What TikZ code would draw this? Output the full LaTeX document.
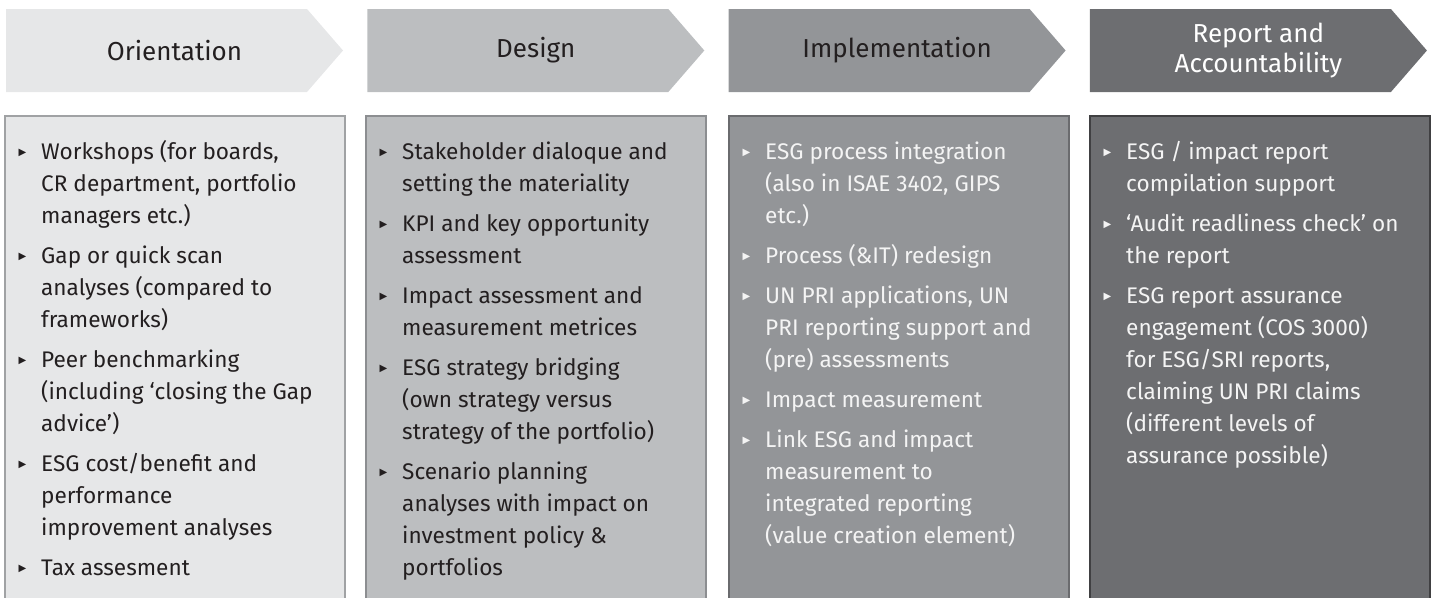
\documentclass[tikz,border=0pt]{standalone}
\usepackage{fontspec}
\setmainfont{Fira Sans}
\newfontfamily\trifont{DejaVu Sans}
\usetikzlibrary{positioning}

\definecolor{greyA}{HTML}{E6E7E8}
\definecolor{greyB}{HTML}{BCBEC0}
\definecolor{greyC}{HTML}{939598}
\definecolor{greyD}{HTML}{6D6E71}
\definecolor{lineA}{HTML}{A0A2A4}
\definecolor{lineB}{HTML}{8C8E91}
\definecolor{lineC}{HTML}{6A6B6E}
\definecolor{lineD}{HTML}{404042}
\definecolor{inkdark}{HTML}{231F20}
\definecolor{inklight}{HTML}{F4F4F4}

\newcommand{\bul}{\makebox[22.5pt][l]{\raisebox{4pt}{\trifont\fontsize{10}{10}\selectfont ▶}}}
\newcommand{\bodysize}{\fontsize{22.6}{32}\selectfont}

\begin{document}
\begin{tikzpicture}[x=1pt,y=-1pt,
    phase/.style={font=\fontsize{26}{30}\selectfont,align=center,inner sep=0pt},
    column/.style={draw=#1,line width=2pt,anchor=north west,outer sep=0pt,
        minimum width=340pt,minimum height=520pt,inner sep=0pt},
    itemlist/.style={anchor=north west,inner sep=0pt,font=\bodysize,align=left}]

\useasboundingbox (0,0) rectangle (1431,597);
\clip (0,0) rectangle (1431,597);

% chevrons
\foreach \i/\c in {0/greyA,1/greyB,2/greyC,3/greyD}
    \fill[\c,xshift=\i*361.3pt] (6,9) -- (307,9) -- (343,50.5) -- (307,92) -- (6,92) -- cycle;

\node[phase,text=inkdark] (orient) at (174.5,50.5) {Orientation};
\node[phase,text=inkdark] (design) at (535.8,50.5) {Design};
\node[phase,text=inkdark] (implement) at (897.1,50.5) {Implementation};
\node[phase,text=white] (report) at (1258.4,50.5) {Report and\\Accountability};

% columns
\node[column=lineA,fill=greyA] (orientbox) at (5,116) {};
\node[column=lineB,fill=greyB] (designbox) at (366,116) {};
\node[column=lineC,fill=greyC] (implementbox) at (729,116) {};
\node[column=lineD,fill=greyD] (reportbox) at (1090,116) {};

\node[itemlist,text=inkdark] (orientlist) at ([xshift=13.5pt,yshift=-20.6pt]orientbox.north west) {%
    \begin{tabular}{@{}l@{}l@{}}
    \bul & Workshops (for boards,\\
         & CR department, portfolio\\
         & managers etc.)\\[8pt]
    \bul & Gap or quick scan\\
         & analyses (compared to\\
         & frameworks)\\[8pt]
    \bul & Peer benchmarking\\
         & (including ‘closing the Gap\\
         & advice’)\\[8pt]
    \bul & ESG cost/benefit and\\
         & performance\\
         & improvement analyses\\[8pt]
    \bul & Tax assesment
    \end{tabular}};

\node[itemlist,text=inkdark] (designlist) at ([xshift=13.5pt,yshift=-20.6pt]designbox.north west) {%
    \begin{tabular}{@{}l@{}l@{}}
    \bul & Stakeholder dialoque and\\
         & setting the materiality\\[8pt]
    \bul & KPI and key opportunity\\
         & assessment\\[8pt]
    \bul & Impact assessment and\\
         & measurement metrices\\[8pt]
    \bul & ESG strategy bridging\\
         & (own strategy versus\\
         & strategy of the portfolio)\\[8pt]
    \bul & Scenario planning\\
         & analyses with impact on\\
         & investment policy \&\\
         & portfolios
    \end{tabular}};

\node[itemlist,text=inklight] (implementlist) at ([xshift=13.5pt,yshift=-20.6pt]implementbox.north west) {%
    \begin{tabular}{@{}l@{}l@{}}
    \bul & ESG process integration\\
         & (also in ISAE 3402, GIPS\\
         & etc.)\\[8pt]
    \bul & Process (\&IT) redesign\\[8pt]
    \bul & UN PRI applications, UN\\
         & PRI reporting support and\\
         & (pre) assessments\\[8pt]
    \bul & Impact measurement\\[8pt]
    \bul & Link ESG and impact\\
         & measurement to\\
         & integrated reporting\\
         & (value creation element)
    \end{tabular}};

\node[itemlist,text=inklight] (reportlist) at ([xshift=13.5pt,yshift=-20.6pt]reportbox.north west) {%
    \begin{tabular}{@{}l@{}l@{}}
    \bul & ESG / impact report\\
         & compilation support\\[8pt]
    \bul & ‘Audit readliness check’ on\\
         & the report\\[8pt]
    \bul & ESG report assurance\\
         & engagement (COS 3000)\\
         & for ESG/SRI reports,\\
         & claiming UN PRI claims\\
         & (different levels of\\
         & assurance possible)
    \end{tabular}};
\end{tikzpicture}
\end{document}
